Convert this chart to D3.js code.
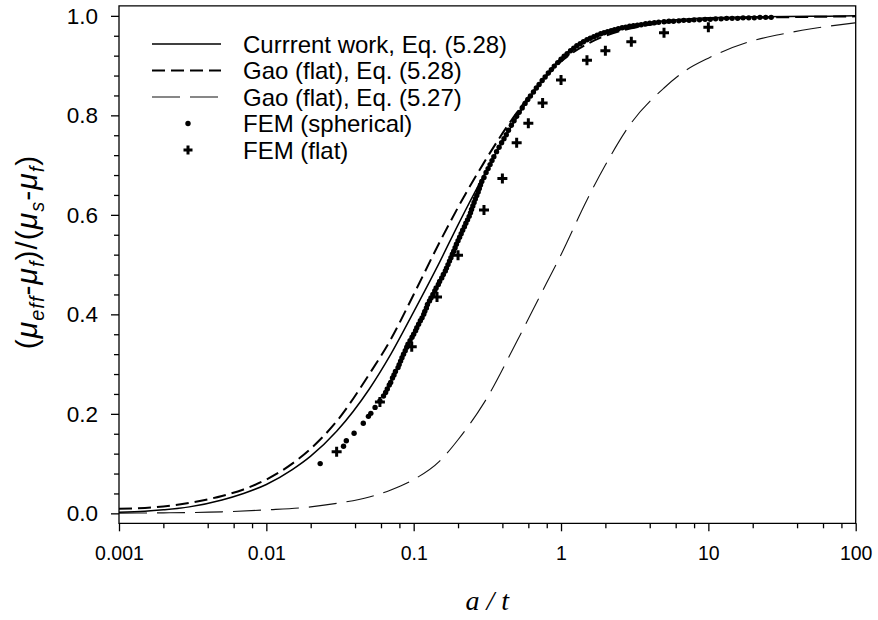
<!DOCTYPE html>
<html>
<head>
<meta charset="utf-8">
<script src="https://cdn.jsdelivr.net/npm/d3@7"></script>
<style>
  html, body { margin: 0; padding: 0; background: #fff; }
  svg { display: block; }
  .tick text { fill: #000; }
</style>
</head>
<body>
<svg id="chart" width="878" height="620"></svg>
<script>
// ---- data -------------------------------------------------------------
// Current work, Eq. (5.28)
const currentX = [0.001,0.0015,0.002,0.003,0.005,0.007,0.01,0.015,0.02,0.03,0.05,0.07,0.1,0.15,0.2,0.3,0.5,0.7,1,1.5,2,3,5,10,20,50,100];
const currentY = [0.002,0.004,0.007,0.013,0.027,0.040,0.058,0.088,0.115,0.165,0.25,0.32,0.405,0.505,0.58,0.68,0.795,0.86,0.915,0.952,0.968,0.981,0.99,0.996,0.998,0.999,1.0];

// Gao (flat), Eq. (5.28)
const gao528X = [0.001,0.0015,0.002,0.003,0.005,0.007,0.01,0.015,0.02,0.03,0.05,0.07,0.1,0.15,0.2,0.3,0.5,0.7,1,1.5,2,3,5,10,20,50,100];
const gao528Y = [0.009,0.011,0.014,0.021,0.035,0.048,0.068,0.1,0.13,0.185,0.28,0.35,0.44,0.545,0.615,0.705,0.805,0.86,0.908,0.943,0.96,0.975,0.986,0.993,0.996,0.998,0.999];

// Gao (flat), Eq. (5.27)
const gao527X = [0.001,0.002,0.005,0.01,0.02,0.03,0.05,0.07,0.1,0.15,0.2,0.3,0.5,0.7,1,1.5,2,3,5,7,10,20,30,50,100];
const gao527Y = [0.0005,0.001,0.003,0.007,0.013,0.02,0.033,0.047,0.068,0.105,0.148,0.222,0.345,0.43,0.52,0.63,0.7,0.785,0.855,0.89,0.915,0.95,0.962,0.974,0.986];

// FEM (spherical)
const femSphX = [0.0232,0.0334,0.0349,0.0394,0.0455,0.0493,0.0512,0.0547,0.0590,0.0624,0.0645,
  0.0662,0.0683,0.0698,0.0718,0.0735,0.0752,0.0783,0.0797,0.0815,0.0833,0.0853,0.0876,0.0897,0.0915,0.0945,0.0975,
  0.100,0.103,0.105,0.108,0.111,0.114,0.117,0.119,0.122,0.124,0.128,0.131,0.135,0.139,0.142,0.147,0.150,0.155,0.159,
  0.164,0.167,0.171,0.175,0.179,0.183,0.187,0.191,0.195,0.200,0.205,0.210,0.215,0.221,0.226,0.232,0.238,0.243,0.247,
  0.252,0.257,0.262,0.268,0.274,0.279,0.284,0.290,
  0.300,0.310,0.320,0.330,0.340,0.350,0.365,0.380,0.395,0.410,0.425,0.44,0.46,0.48,0.50,0.52,0.545,0.57,0.595,0.62,
  0.65,0.68,0.71,0.745,0.78,0.82,0.86,0.90,0.95,1.00,1.05,1.10,1.16,1.22,1.28,1.35,1.42,1.50,1.58,1.67,1.76,1.86,1.96,
  2.07,2.19,2.31,2.45,2.6,2.75,2.92,3.1,3.3,3.5,3.75,4.0,4.3,4.6,5.0,5.4,5.8,6.3,6.8,7.4,8.0,8.7,9.5,10.3,11.2,12.2,
  13.3,14.5,15.8,17.2,18.8,20.5,22.4,24.5,26.7];
const femSphY = [0.100,0.135,0.146,0.161,0.181,0.195,0.201,0.213,0.226,0.236,0.243,
  0.250,0.258,0.263,0.272,0.278,0.285,0.293,0.299,0.306,0.313,0.320,0.327,0.334,0.340,0.347,0.354,
  0.360,0.367,0.373,0.380,0.387,0.393,0.400,0.406,0.413,0.420,0.427,0.433,0.440,0.447,0.453,0.460,0.466,0.473,0.480,
  0.487,0.493,0.500,0.507,0.514,0.521,0.527,0.534,0.541,0.548,0.555,0.562,0.569,0.576,0.583,0.590,0.597,0.604,0.611,
  0.618,0.625,0.632,0.639,0.646,0.653,0.660,0.667,
  0.675,0.685,0.693,0.701,0.709,0.717,0.727,0.736,0.745,0.753,0.761,0.770,0.780,0.789,0.798,0.806,0.815,0.824,0.832,0.839,
  0.847,0.855,0.862,0.870,0.877,0.885,0.892,0.899,0.906,0.913,0.919,0.924,0.930,0.935,0.940,0.944,0.948,0.952,0.955,0.958,0.961,0.964,0.966,
  0.968,0.970,0.972,0.974,0.976,0.977,0.979,0.980,0.981,0.982,0.984,0.985,0.986,0.987,0.988,0.989,0.989,0.990,0.991,0.991,0.992,0.992,0.993,0.993,0.994,0.994,
  0.995,0.995,0.995,0.996,0.996,0.996,0.997,0.997,0.997];

// FEM (flat)
const femFlatX = [0.030,0.059,0.097,0.144,0.20,0.30,0.40,0.50,0.60,0.75,1.0,1.5,2.0,3.0,5.0,10];
const femFlatY = [0.124,0.224,0.335,0.435,0.519,0.61,0.673,0.745,0.784,0.825,0.871,0.911,0.930,0.948,0.966,0.977];

// axis ticks
const xMajorTicks = [0.001,0.01,0.1,1,10,100];
const xTickLabels = ["0.001","0.01","0.1","1","10","100"];
const xMinorTicks = [];
[0.001,0.01,0.1,1,10].forEach(d => [2,4,6,8].forEach(m => xMinorTicks.push(+(d*m).toPrecision(3))));
const yMajorTicks = [0.0,0.2,0.4,0.6,0.8,1.0];
const yMinorTicks = [0.04,0.08,0.12,0.16,0.24,0.28,0.32,0.36,0.44,0.48,0.52,0.56,0.64,0.68,0.72,0.76,0.84,0.88,0.92,0.96];

const legendLabels = ["Currrent work, Eq. (5.28)","Gao (flat), Eq. (5.28)","Gao (flat), Eq. (5.27)","FEM (spherical)","FEM (flat)"];

// ---- layout -----------------------------------------------------------
const svg = d3.select("#chart");
const plotLeft = 119, plotRight = 855.7, plotTop = 5.9, plotBottom = 523.3;
const x = d3.scaleLog().domain([0.001, 100]).range([plotLeft, plotRight]);
const y = d3.scaleLinear().domain([-0.02, 1.02]).range([plotBottom, plotTop]);

const zip = (xs, ys) => xs.map((v, i) => [v, ys[i]]);

svg.append("clipPath").attr("id", "plotClip")
  .append("rect").attr("x", plotLeft).attr("y", plotTop)
  .attr("width", plotRight - plotLeft).attr("height", plotBottom - plotTop);

const plot = svg.append("g").attr("clip-path", "url(#plotClip)");
const line = d3.line().x(d => x(d[0])).y(d => y(d[1])).curve(d3.curveMonotoneX);

const styles = {
  current: { w: 1.5, dash: null, color: "#000" },
  gao528: { w: 2, dash: "13,6", color: "#000" },
  gao527: { w: 1.1, dash: "28,10", color: "#111" }
};

plot.append("path").datum(zip(gao527X, gao527Y)).attr("d", line)
  .attr("fill", "none").attr("stroke", styles.gao527.color).attr("stroke-width", styles.gao527.w)
  .attr("stroke-dasharray", styles.gao527.dash);
plot.append("path").datum(zip(gao528X, gao528Y)).attr("d", line)
  .attr("fill", "none").attr("stroke", styles.gao528.color).attr("stroke-width", styles.gao528.w)
  .attr("stroke-dasharray", styles.gao528.dash);
plot.append("path").datum(zip(currentX, currentY)).attr("d", line)
  .attr("fill", "none").attr("stroke", styles.current.color).attr("stroke-width", styles.current.w);

plot.append("g").selectAll("circle").data(zip(femSphX, femSphY)).join("circle")
  .attr("cx", d => x(d[0])).attr("cy", d => y(d[1])).attr("r", 2.7).attr("fill", "#000");

const crossPath = (cx, cy, s) => `M${cx - s},${cy}H${cx + s}M${cx},${cy - s}V${cy + s}`;
plot.append("g").selectAll("path").data(zip(femFlatX, femFlatY)).join("path")
  .attr("d", d => crossPath(x(d[0]), y(d[1]), 5))
  .attr("stroke", "#000").attr("stroke-width", 3).attr("fill", "none");

// ---- axes -------------------------------------------------------------
const axisColor = "#000";
const xAxis = svg.append("g").attr("transform", `translate(0,${plotBottom})`)
  .call(d3.axisBottom(x).tickValues(xMajorTicks).tickSize(8).tickPadding(15)
    .tickFormat((d, i) => xTickLabels[i]));
svg.append("g").attr("transform", `translate(0,${plotBottom})`)
  .call(d3.axisBottom(x).tickValues(xMinorTicks).tickSize(5).tickFormat(""));
xAxis.selectAll("text").attr("font-family", "Liberation Sans, Arial, sans-serif").attr("font-size", 19.5);

const yAxis = svg.append("g").attr("transform", `translate(${plotLeft},0)`)
  .call(d3.axisLeft(y).tickValues(yMajorTicks).tickSize(8).tickPadding(13).tickFormat(d3.format(".1f")));
svg.append("g").attr("transform", `translate(${plotLeft},0)`)
  .call(d3.axisLeft(y).tickValues(yMinorTicks).tickSize(5).tickFormat(""));
yAxis.selectAll("text").attr("font-family", "Liberation Sans, Arial, sans-serif").attr("font-size", 22.5);

svg.selectAll(".domain").remove();
svg.selectAll(".tick line").attr("stroke", axisColor).attr("stroke-width", 1.3);

// frame
svg.append("path")
  .attr("d", `M${plotLeft},${plotTop}V${plotBottom}H${plotRight}V${plotTop}Z`)
  .attr("fill", "none").attr("stroke", axisColor).attr("stroke-width", 1.3);

// ---- axis titles -------------------------------------------------------
svg.append("text").attr("x", (plotLeft + plotRight) / 2).attr("y", 610)
  .attr("text-anchor", "middle")
  .attr("font-family", "Liberation Serif, Times New Roman, serif").attr("font-style", "italic")
  .attr("font-size", 28).text("a / t");

const yt = svg.append("text")
  .attr("transform", `translate(37,252) rotate(-90)`)
  .attr("text-anchor", "middle")
  .attr("letter-spacing", 1)
  .attr("font-family", "Liberation Sans, Arial, sans-serif").attr("font-size", 30);
const parts = [
  ["(", null], ["\u03bc", "it"], ["eff", "sub"], ["-", null], ["\u03bc", "it"], ["f", "sub"], [")/(", null],
  ["\u03bc", "it"], ["s", "sub"], ["-", null], ["\u03bc", "it"], ["f", "sub"], [")", null]
];
let wasSub = false;
parts.forEach(([t, kind]) => {
  const ts = yt.append("tspan").text(t);
  if (kind === "it") ts.attr("font-style", "italic");
  if (kind === "sub") {
    ts.attr("font-size", 20).attr("font-style", "italic").attr("dy", 7);
    wasSub = true;
  } else if (wasSub) {
    ts.attr("dy", -7);
    wasSub = false;
  }
});

// ---- legend ------------------------------------------------------------
const legend = svg.append("g");
const rowY = [44, 70.5, 97, 123.5, 150];
const lx0 = 152, lx1 = 221, markX = 188, textX = 243;
legendLabels.forEach((lab, i) => {
  const yy = rowY[i];
  if (i === 0) legend.append("line").attr("x1", lx0).attr("x2", lx1).attr("y1", yy).attr("y2", yy)
    .attr("stroke", "#000").attr("stroke-width", styles.current.w);
  if (i === 1) legend.append("line").attr("x1", lx0).attr("x2", lx1).attr("y1", yy).attr("y2", yy)
    .attr("stroke", "#000").attr("stroke-width", styles.gao528.w).attr("stroke-dasharray", styles.gao528.dash);
  if (i === 2) legend.append("line").attr("x1", lx0).attr("x2", lx1).attr("y1", yy).attr("y2", yy)
    .attr("stroke", "#111").attr("stroke-width", styles.gao527.w).attr("stroke-dasharray", styles.gao527.dash);
  if (i === 3) legend.append("circle").attr("cx", markX).attr("cy", yy).attr("r", 2.7).attr("fill", "#000");
  if (i === 4) legend.append("path").attr("d", crossPath(markX, yy, 4.5))
    .attr("stroke", "#000").attr("stroke-width", 3);
  legend.append("text").attr("x", textX).attr("y", yy).attr("dy", "0.36em")
    .attr("font-family", "Liberation Sans, Arial, sans-serif").attr("font-size", 24).text(lab);
});
</script>
</body>
</html>
